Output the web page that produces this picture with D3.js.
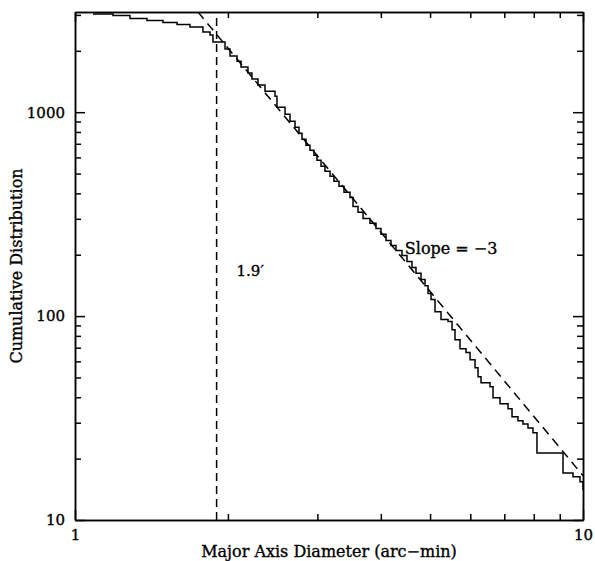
<!DOCTYPE html>
<html>
<head>
<meta charset="utf-8">
<script src="https://cdn.jsdelivr.net/npm/d3@7"></script>
<style>
  body { margin: 0; background: #fff; }
  svg text { font-family: "DejaVu Serif", "Liberation Serif", serif; fill: #000; stroke: #000; stroke-width: 0.35px; }
</style>
</head>
<body>
<div id="chart"></div>
<script>
const diameters = [1.085, 1.188, 1.283, 1.386, 1.490, 1.588, 1.684, 1.786, 1.844, 1.869,
    1.974, 2.019, 2.084, 2.122, 2.190, 2.230, 2.292, 2.366, 2.476, 2.498,
    2.591, 2.650, 2.711, 2.760, 2.798, 2.849, 2.901, 2.954, 2.995, 3.050,
    3.105, 3.177, 3.234, 3.309, 3.385, 3.478, 3.526, 3.607, 3.690, 3.808,
    3.913, 4.003, 4.095, 4.188, 4.284, 4.402, 4.503, 4.606, 4.691, 4.799,
    4.887, 4.954, 5.022, 5.113, 5.254, 5.424, 5.523, 5.598, 5.727, 5.885,
    5.993, 6.130, 6.214, 6.299, 6.561, 6.651, 6.865, 7.119, 7.249, 7.447,
    7.618, 7.793, 7.972, 8.117, 9.134, 9.557, 9.865, 10.0];
const counts = [3031, 2980, 2880, 2816, 2753, 2692, 2617, 2473, 2390, 2208,
    2040, 1884, 1780, 1664, 1555, 1453, 1358, 1268, 1198, 1058,
    978, 903, 844, 789, 737, 688, 651, 615, 581, 543,
    513, 485, 458, 433, 405, 382, 345, 323, 301, 285,
    269, 252, 235, 222, 210, 198, 185, 173, 162, 151,
    141, 129, 120.5, 105, 96.1, 94.0, 85.8, 76.6, 69.2, 66.2,
    61.1, 55.8, 50.4, 47.1, 45.0, 39.8, 37.2, 35.1, 32.1, 30.7,
    29.6, 28.3, 26.8, 21.3, 17.0, 16.3, 15.4, 14.0];

// slope -3 reference line end points
const slopeD = [1.6, 10];
const slopeN = [4028, 16.5];
const cutoffD = 1.9;

const xMajor = [1, 10];
const xMinor = [2, 3, 4, 5, 6, 7, 8, 9];
const yMajor = [10, 100, 1000];
const yMinor = [20, 30, 40, 50, 60, 70, 80, 90, 200, 300, 400, 500, 600, 700, 800, 900, 2000, 3000];

const width = 595, height = 561;
const margin = { top: 12, right: 12, bottom: 41, left: 75 };

const svg = d3.select('#chart').append('svg')
    .attr('width', width)
    .attr('height', height);

const x = d3.scaleLog().domain([1, 10]).range([margin.left, width - margin.right]);
const y = d3.scaleLog().domain([10, 3100]).range([height - margin.bottom, margin.top]);

svg.append('defs').append('clipPath')
    .attr('id', 'plot-clip')
    .append('rect')
    .attr('x', margin.left)
    .attr('y', margin.top)
    .attr('width', width - margin.left - margin.right)
    .attr('height', height - margin.top - margin.bottom);

const fmt = d => d3.format('d')(d);

function styleAxis(g) {
    g.selectAll('path, line').attr('stroke', '#000').attr('stroke-width', 1.5);
    g.selectAll('text').attr('font-size', 15);
}

// bottom
svg.append('g')
    .attr('transform', `translate(0,${y.range()[0]})`)
    .call(d3.axisBottom(x).tickValues(xMajor).tickFormat(fmt).tickSize(-10).tickSizeOuter(0).tickPadding(9))
    .call(styleAxis);
svg.append('g')
    .attr('transform', `translate(0,${y.range()[0]})`)
    .call(d3.axisBottom(x).tickValues(xMinor).tickFormat('').tickSize(-6).tickSizeOuter(0))
    .call(styleAxis);
// top
svg.append('g')
    .attr('transform', `translate(0,${y.range()[1]})`)
    .call(d3.axisTop(x).tickValues(xMajor).tickFormat('').tickSize(-10).tickSizeOuter(0))
    .call(styleAxis);
svg.append('g')
    .attr('transform', `translate(0,${y.range()[1]})`)
    .call(d3.axisTop(x).tickValues(xMinor).tickFormat('').tickSize(-6).tickSizeOuter(0))
    .call(styleAxis);
// left
svg.append('g')
    .attr('transform', `translate(${x.range()[0]},0)`)
    .call(d3.axisLeft(y).tickValues(yMajor).tickFormat(fmt).tickSize(-10).tickSizeOuter(0).tickPadding(10))
    .call(styleAxis);
svg.append('g')
    .attr('transform', `translate(${x.range()[0]},0)`)
    .call(d3.axisLeft(y).tickValues(yMinor).tickFormat('').tickSize(-6).tickSizeOuter(0))
    .call(styleAxis);
// right
svg.append('g')
    .attr('transform', `translate(${x.range()[1]},0)`)
    .call(d3.axisRight(y).tickValues(yMajor).tickFormat('').tickSize(-10).tickSizeOuter(0))
    .call(styleAxis);
svg.append('g')
    .attr('transform', `translate(${x.range()[1]},0)`)
    .call(d3.axisRight(y).tickValues(yMinor).tickFormat('').tickSize(-6).tickSizeOuter(0))
    .call(styleAxis);

const plot = svg.append('g').attr('clip-path', 'url(#plot-clip)');

// cutoff line at 1.9'
plot.append('line')
    .attr('x1', x(cutoffD)).attr('x2', x(cutoffD))
    .attr('y1', y.range()[0]).attr('y2', y.range()[1])
    .attr('stroke', '#000')
    .attr('stroke-width', 1.5)
    .attr('stroke-dasharray', '8,5');

// slope -3 line
plot.append('path')
    .datum(slopeD.map((d, i) => [d, slopeN[i]]))
    .attr('fill', 'none')
    .attr('stroke', '#000')
    .attr('stroke-width', 1.5)
    .attr('stroke-dasharray', '9,6')
    .attr('d', d3.line().x(d => x(d[0])).y(d => y(d[1])));

// cumulative staircase
plot.append('path')
    .datum(diameters.map((d, i) => [d, counts[i]]))
    .attr('fill', 'none')
    .attr('stroke', '#000')
    .attr('stroke-width', 1.5)
    .attr('d', d3.line().curve(d3.curveStepAfter).x(d => x(d[0])).y(d => y(d[1])));

// annotations
svg.append('text')
    .attr('x', x(2.08)).attr('y', y(157))
    .attr('font-size', 15)
    .text('1.9\u2032');

svg.append('text')
    .attr('x', x(4.46)).attr('y', y(202))
    .attr('font-size', 16)
    .text('Slope = \u22123');

// axis titles
svg.append('text')
    .attr('x', (x.range()[0] + x.range()[1]) / 2)
    .attr('y', 557)
    .attr('text-anchor', 'middle')
    .attr('font-size', 16)
    .text('Major Axis Diameter (arc\u2212min)');

svg.append('text')
    .attr('transform', `translate(22,${(y.range()[0] + y.range()[1]) / 2}) rotate(-90)`)
    .attr('text-anchor', 'middle')
    .attr('font-size', 16)
    .text('Cumulative Distribution');
</script>
</body>
</html>
